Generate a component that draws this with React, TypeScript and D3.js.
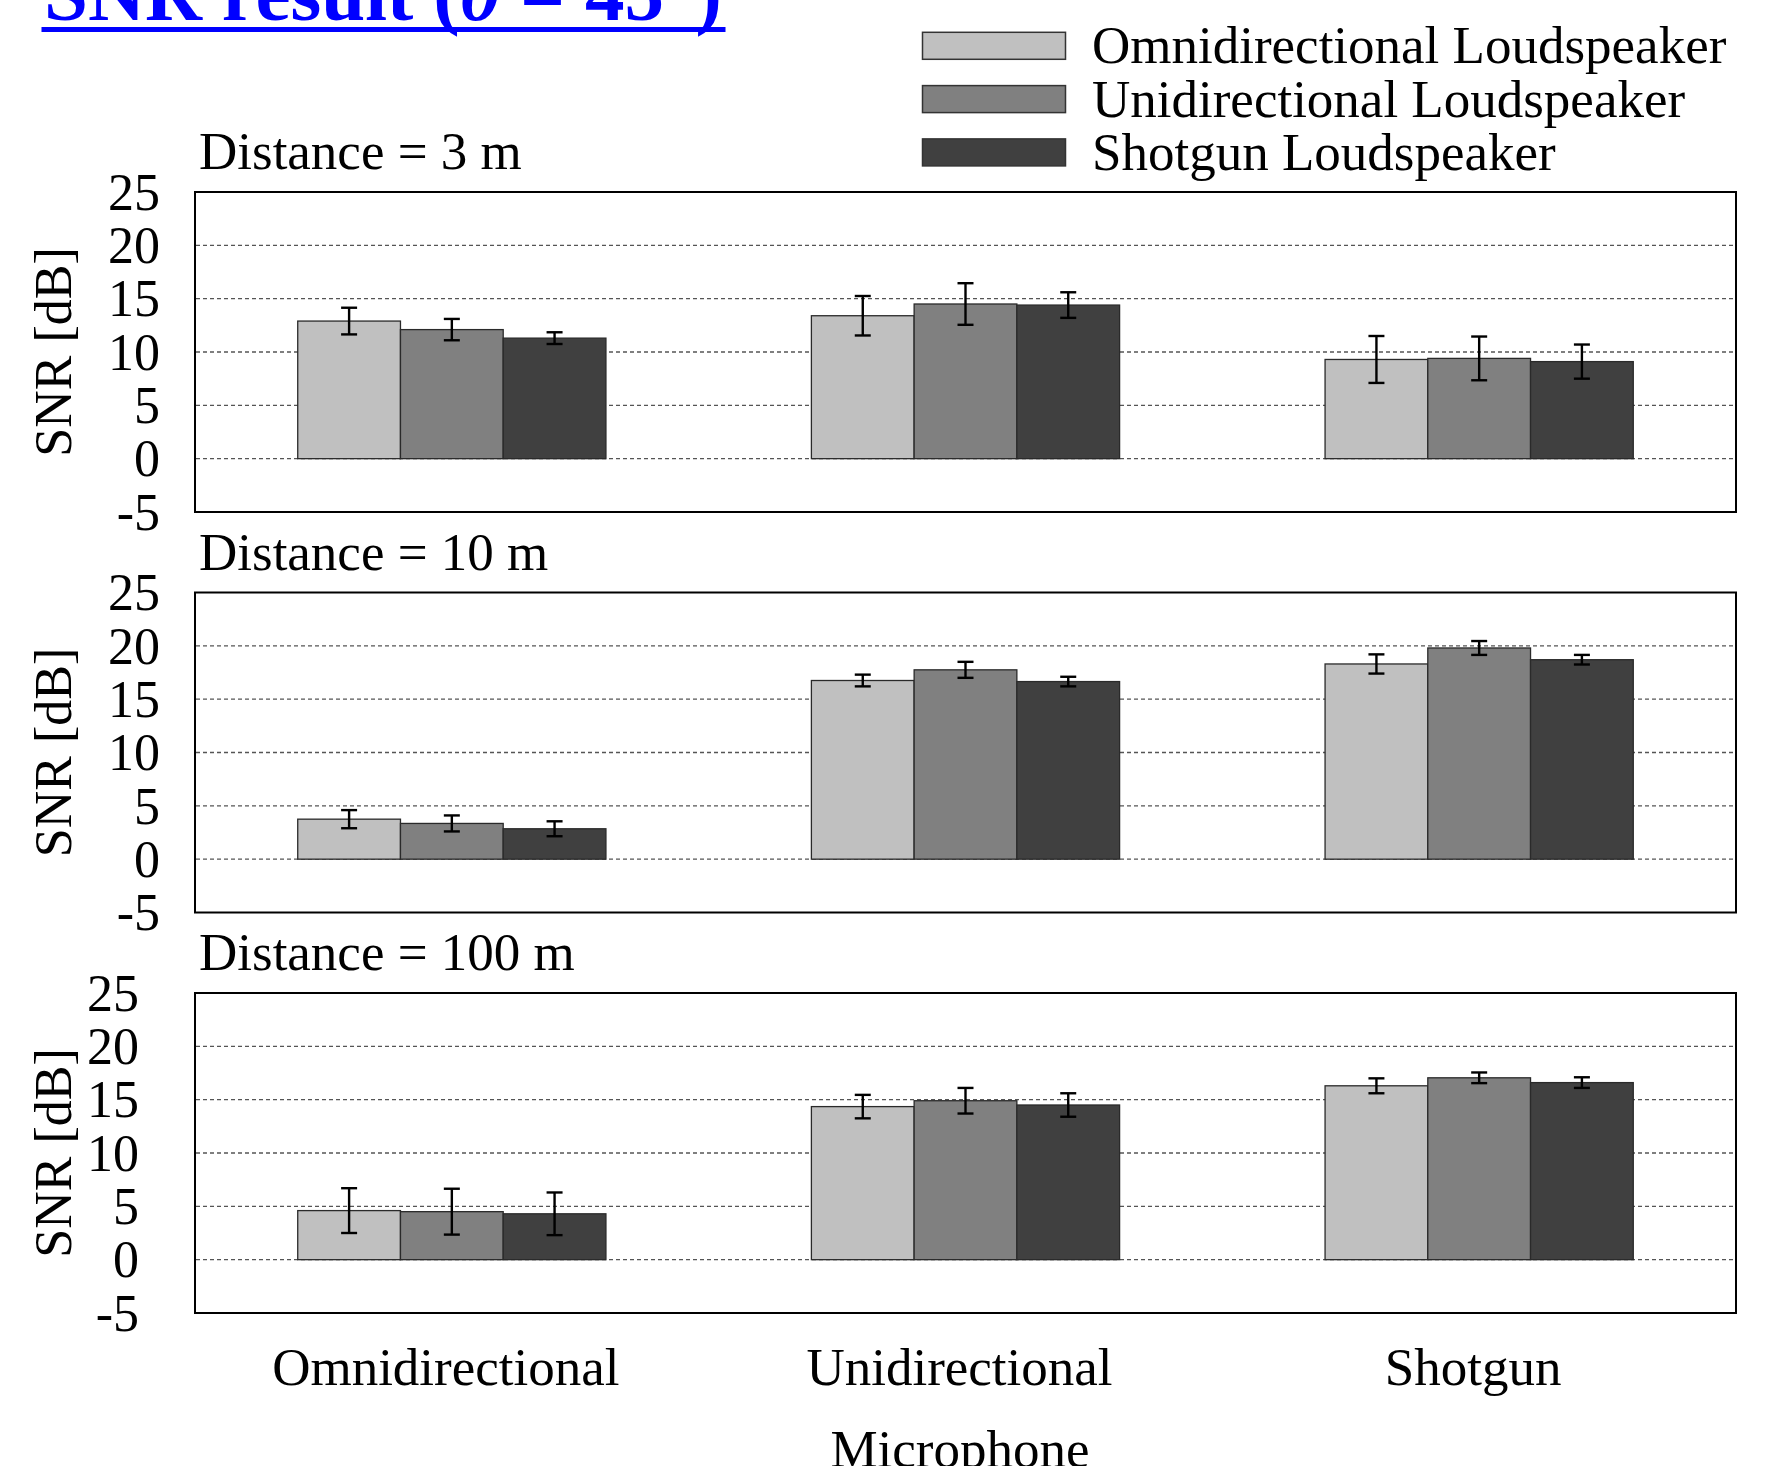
import React from "react";
import * as d3 from "d3";

// Categories
const microphones = ["Omnidirectional", "Unidirectional", "Shotgun"];
const loudspeakers = [
  "Omnidirectional Loudspeaker",
  "Unidirectional Loudspeaker",
  "Shotgun Loudspeaker",
];
const distanceLabels = ["Distance = 3 m", "Distance = 10 m", "Distance = 100 m"];
const yTicks = [-5, 0, 5, 10, 15, 20, 25];
const gridTicks = [0, 5, 10, 15, 20];

// Mean SNR [dB]: rows = microphone, columns = loudspeaker
const snr3m = [
  [12.9, 12.1, 11.3],
  [13.4, 14.5, 14.4],
  [9.3, 9.4, 9.1],
];
const err3m = [
  [1.25, 1.0, 0.55],
  [1.85, 1.95, 1.2],
  [2.2, 2.05, 1.6],
];
const snr10m = [
  [3.75, 3.35, 2.85],
  [16.75, 17.75, 16.65],
  [18.3, 19.8, 18.7],
];
const err10m = [
  [0.85, 0.75, 0.7],
  [0.55, 0.75, 0.45],
  [0.9, 0.65, 0.45],
];
const snr100m = [
  [4.6, 4.5, 4.3],
  [14.35, 14.9, 14.5],
  [16.3, 17.05, 16.6],
];
const err100m = [
  [2.1, 2.15, 2.0],
  [1.1, 1.2, 1.1],
  [0.7, 0.5, 0.5],
];

const panelMeans = [snr3m, snr10m, snr100m];
const panelErrors = [err3m, err10m, err100m];

const fills = ["#c0c0c0", "#808080", "#404040"];

const W = 1788;
const H = 1466;
const FONT = "'Liberation Serif', 'Times New Roman', Times, serif";
const plotLeft = 195;
const plotRight = 1736;
const panelTops = [192, 592.5, 993];
const panelH = 320;
const tickRight = [160, 160, 139];

const x0 = d3
  .scaleBand<string>()
  .domain(microphones)
  .range([plotLeft, plotRight])
  .paddingInner(0.4)
  .paddingOuter(0.2);
const x1 = d3
  .scaleBand<string>()
  .domain(loudspeakers)
  .range([0, x0.bandwidth()]);

function Panel({ index }: { index: number }) {
  const top = panelTops[index];
  const y = d3.scaleLinear().domain([-5, 25]).range([top + panelH, top]);
  const means = panelMeans[index];
  const errs = panelErrors[index];
  const cap = 8;
  return (
    <g>
      <text
        x={199}
        y={top - 23}
        fontFamily={FONT}
        fontSize={53}
        fill="#000"
      >
        {distanceLabels[index]}
      </text>
      <rect
        x={plotLeft}
        y={top}
        width={plotRight - plotLeft}
        height={panelH}
        fill="#fff"
        stroke="#000"
        strokeWidth={2}
      />
      {gridTicks.map((t) => (
        <line
          key={t}
          x1={plotLeft + 1}
          x2={plotRight - 1}
          y1={y(t)}
          y2={y(t)}
          stroke="#555"
          strokeWidth={1.3}
          strokeDasharray="4 3"
        />
      ))}
      {microphones.map((m, mi) =>
        loudspeakers.map((l, li) => {
          const v = means[mi][li];
          const bx = (x0(m) ?? 0) + (x1(l) ?? 0);
          return (
            <rect
              key={m + l}
              x={bx}
              y={y(v)}
              width={x1.bandwidth()}
              height={y(0) - y(v)}
              fill={fills[li]}
              stroke="#2a2a2a"
              strokeWidth={1.3}
            />
          );
        })
      )}
      {microphones.map((m, mi) =>
        loudspeakers.map((l, li) => {
          const v = means[mi][li];
          const e = errs[mi][li];
          const cx = (x0(m) ?? 0) + (x1(l) ?? 0) + x1.bandwidth() / 2;
          return (
            <g key={"e" + m + l} stroke="#000" strokeWidth={2.4}>
              <line x1={cx} x2={cx} y1={y(v + e)} y2={y(v - e)} />
              <line x1={cx - cap} x2={cx + cap} y1={y(v + e)} y2={y(v + e)} />
              <line x1={cx - cap} x2={cx + cap} y1={y(v - e)} y2={y(v - e)} />
            </g>
          );
        })
      )}
      {yTicks.map((t) => (
        <text
          key={"t" + t}
          x={tickRight[index]}
          y={y(t)}
          dy="0.34em"
          textAnchor="end"
          fontFamily={FONT}
          fontSize={52}
          fill="#000"
        >
          {t}
        </text>
      ))}
      <text
        transform={`translate(71, ${top + panelH / 2}) rotate(-90)`}
        textAnchor="middle"
        fontFamily={FONT}
        fontSize={52}
        fill="#000"
      >
        SNR [dB]
      </text>
    </g>
  );
}

export default function App() {
  return (
    <svg
      width={W}
      height={H}
      style={{ position: "absolute", left: 0, top: 0, display: "block" }}
    >
      <rect x={0} y={0} width={W} height={H} fill="#fff" />
      {/* heading, partly above the top edge, with its underline */}
      <text
        x={44}
        y={20}
        fontFamily={FONT}
        fontSize={79}
        fontWeight="bold"
        fill="#0000ff"
      >
        SNR result (<tspan fontStyle="italic">θ</tspan> = 45°)
      </text>
      <rect x={41.5} y={27} width={684} height={5} fill="#0000ff" />

      {loudspeakers.map((l, i) => {
        const ry = 32.3 + i * 53.3;
        return (
          <g key={l}>
            <rect
              x={922.5}
              y={ry}
              width={143}
              height={27}
              fill={fills[i]}
              stroke="#333"
              strokeWidth={1.5}
            />
            <text
              x={1092}
              y={ry + 31}
              fontFamily={FONT}
              fontSize={53}
              fill="#000"
            >
              {l}
            </text>
          </g>
        );
      })}

      {panelTops.map((_, i) => (
        <Panel key={i} index={i} />
      ))}

      {microphones.map((m) => (
        <text
          key={m}
          x={(x0(m) ?? 0) + x0.bandwidth() / 2 - 6}
          y={1385}
          textAnchor="middle"
          fontFamily={FONT}
          fontSize={53}
          fill="#000"
        >
          {m}
        </text>
      ))}
      <text
        x={960}
        y={1467}
        textAnchor="middle"
        fontFamily={FONT}
        fontSize={53}
        fill="#000"
      >
        Microphone
      </text>
    </svg>
  );
}
